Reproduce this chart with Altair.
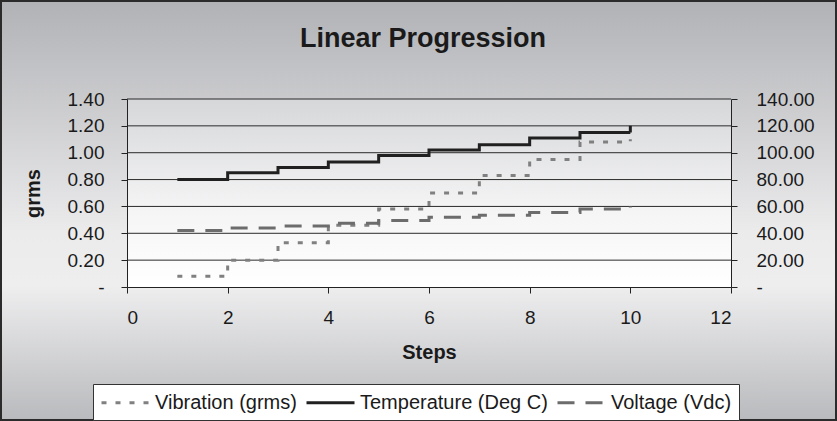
import altair as alt
import pandas as pd

# ---- data ----
steps = [1, 2, 3, 4, 5, 6, 7, 8, 9, 10]
vibration = [0.08, 0.20, 0.33, 0.46, 0.58, 0.70, 0.83, 0.95, 1.08, 1.10]
temperature = [80, 85, 89, 93, 98, 102, 106, 111, 115, 120]
voltage = [42, 44, 45.5, 47.5, 49.5, 52, 53.5, 55.5, 58, 60]
series_names = ["Vibration (grms)", "Temperature (Deg C)", "Voltage (Vdc)"]
left_ticks = [0, 0.2, 0.4, 0.6, 0.8, 1.0, 1.2, 1.4]
right_ticks = [0, 20, 40, 60, 80, 100, 120, 140]
x_ticks = [0, 2, 4, 6, 8, 10, 12]

FONT = "Liberation Sans"
W, H = 604, 188
PAD_L, PAD_T, PAD_R, PAD_B = 127, 99, 106, 134

rows = []
for name, vals in zip(series_names, [vibration, temperature, voltage]):
    for s, v in zip(steps, vals):
        rows.append({"Steps": s, "value": v, "series": name})
df = pd.DataFrame(rows)
grid_df = pd.DataFrame({"tick": left_ticks[1:]})
one = pd.DataFrame({"a": [0]})

color_scale = alt.Scale(domain=series_names, range=["#808080", "#202020", "#6c6c6c"])
dash_scale = alt.Scale(domain=series_names, range=[[5, 9], [1, 0], [17, 11]])

legend = alt.Legend(
    title=None, orient="none", legendX=-34, legendY=285, direction="horizontal",
    fillColor="white", strokeColor="#333333", padding=7,
    symbolType="M-1,0H3.8", symbolSize=400, symbolStrokeWidth=3,
    labelFont=FONT, labelFontSize=20, labelColor="#1a1a1a", labelOffset=32,
    labelLimit=400, columnPadding=3, symbolOffset=0,
)

outer_grad = alt.LinearGradient(
    gradient="linear", x1=0, y1=0, x2=0, y2=1,
    stops=[alt.GradientStop(color="#b1b2b6", offset=0),
           alt.GradientStop(color="#ebebec", offset=0.55),
           alt.GradientStop(color="#eeeeef", offset=0.68),
           alt.GradientStop(color="#b9babd", offset=1)],
)
plot_grad = alt.LinearGradient(
    gradient="linear", x1=0, y1=0, x2=0, y2=1,
    stops=[alt.GradientStop(color="#d6d7d9", offset=0),
           alt.GradientStop(color="#f5f5f6", offset=0.6),
           alt.GradientStop(color="#ffffff", offset=1)],
)

bg = alt.Chart(one).mark_rect(fill=outer_grad, stroke="#2b2b2b", strokeWidth=2).encode(
    x=alt.value(-PAD_L + 1), x2=alt.value(W + PAD_R - 1),
    y=alt.value(-PAD_T + 1), y2=alt.value(H + PAD_B - 1),
)
plotbg = alt.Chart(one).mark_rect(fill=plot_grad).encode(
    x=alt.value(0), x2=alt.value(W), y=alt.value(0), y2=alt.value(H),
)

x_enc = alt.X(
    "Steps:Q", scale=alt.Scale(domain=[0, 12], nice=False),
    axis=alt.Axis(values=x_ticks, format="d", title="Steps", grid=False,
                  labelFont=FONT, labelFontSize=19, labelColor="#1a1a1a",
                  labelPadding=15, tickSize=6, tickColor="#222222",
                  domainColor="#222222", titleFont=FONT, titleFontSize=20,
                  titleFontWeight="bold", titleColor="#1a1a1a", titlePadding=15,
                  zindex=1),
)

left_scale = alt.Scale(domain=[0, 1.4], nice=False, zero=True)
left_axis = alt.Axis(
    values=left_ticks, grid=False, orient="left", title="grms",
    labelExpr="datum.value == 0 ? '-' : format(datum.value, '.2f')",
    labelFont=FONT, labelFontSize=19, labelColor="#1a1a1a", labelPadding=17,
    tickSize=6, tickColor="#222222", domainColor="#222222",
    titleFont=FONT, titleFontSize=20, titleFontWeight="bold", titleColor="#1a1a1a",
    titlePadding=24, zindex=1,
)
right_scale = alt.Scale(domain=[0, 140], nice=False, zero=True)
right_axis = alt.Axis(
    values=right_ticks, grid=False, orient="right", title=None,
    labelExpr="datum.value == 0 ? '-' : format(datum.value, '.2f')",
    labelFont=FONT, labelFontSize=19, labelColor="#1a1a1a", labelPadding=19,
    tickSize=6, tickColor="#222222", domainColor="#222222", zindex=1,
)

gridlines = alt.Chart(grid_df).mark_rule(color="#2a2a2a", strokeWidth=1).encode(
    y=alt.Y("tick:Q", scale=left_scale, axis=left_axis),
    x=alt.value(0), x2=alt.value(W),
)

vib = alt.Chart(df).transform_filter(
    alt.datum.series == series_names[0]
).mark_line(interpolate="step-after", strokeWidth=3).encode(
    x=x_enc,
    y=alt.Y("value:Q", scale=left_scale, axis=left_axis),
    color=alt.Color("series:N", scale=color_scale, legend=legend),
    strokeDash=alt.StrokeDash("series:N", scale=dash_scale, legend=legend),
)

left = alt.layer(gridlines, vib)

right = alt.Chart(df).transform_filter(
    alt.datum.series != series_names[0]
).mark_line(interpolate="step-after", strokeWidth=3).encode(
    x=x_enc,
    y=alt.Y("value:Q", scale=right_scale, axis=right_axis),
    color=alt.Color("series:N", scale=color_scale, legend=legend),
    strokeDash=alt.StrokeDash("series:N", scale=dash_scale, legend=legend),
    detail="series:N",
)

chart = alt.layer(bg, plotbg, left, right).resolve_scale(y="independent").properties(
    width=W, height=H,
    autosize=alt.AutoSizeParams(type="none"),
    padding={"left": PAD_L, "top": PAD_T, "right": PAD_R, "bottom": PAD_B},
    title=alt.TitleParams("Linear Progression", font=FONT, fontSize=27,
                          fontWeight="bold", color="#1a1a1a", anchor="middle",
                          baseline="alphabetic", offset=0, dx=-6, dy=74),
).configure_view(stroke=None).configure(background="#c8c8ca")

chart.save("out.html", embed_options={"renderer": "svg", "actions": False})
